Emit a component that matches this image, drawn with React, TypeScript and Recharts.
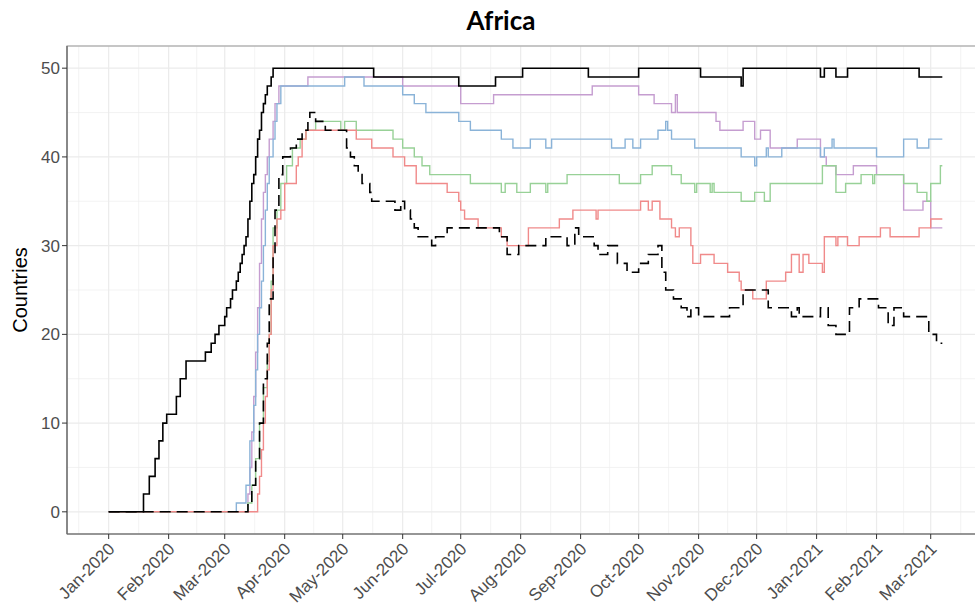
import { LineChart, Line, XAxis, YAxis, CartesianGrid, ReferenceArea } from 'recharts';

// days since 1 Jan 2020 -> number of countries (value holds until next entry)
const allMeasures: [number, number][] = [
  [0, 0], [18, 2], [21, 4], [24, 6], [26, 8], [28, 10], [30, 11], [35, 13], [37, 15], [40, 17],
  [50, 18], [53, 19], [55, 20], [57, 21], [60, 22], [61, 23], [63, 24], [64, 25], [66, 26], [67, 27],
  [68, 28], [69, 29], [70, 30], [71, 31], [72, 33], [73, 35], [74, 37], [75, 38], [76, 40], [77, 42],
  [78, 43], [79, 45], [80, 46], [81, 47], [82, 48], [84, 49], [85, 50], [137, 49], [181, 48], [200, 49],
  [214, 50], [248, 49], [274, 50], [306, 49], [327, 48], [328, 50], [368, 49], [370, 50], [376, 49], [382, 50],
  [419, 49], [431, 49],
];

const dashedSeries: [number, number][] = [
  [0, 0], [72, 1], [74, 3], [76, 6], [78, 10], [80, 15], [82, 19], [83, 24], [85, 29], [86, 34],
  [88, 38], [90, 40], [94, 41], [97, 42], [100, 43], [103, 44], [104, 45], [107, 44], [112, 43], [123, 41],
  [125, 40], [127, 39], [129, 38], [131, 37], [135, 36], [136, 35], [148, 34], [151, 35], [153, 34], [156, 33],
  [158, 32], [160, 31], [167, 30], [169, 31], [175, 32], [202, 31], [206, 29], [212, 30], [226, 31], [237, 30],
  [241, 32], [243, 31], [251, 30], [253, 29], [258, 30], [263, 28], [268, 27], [274, 28], [279, 29], [284, 30],
  [286, 27], [288, 25], [292, 24], [296, 23], [299, 22], [301, 23], [305, 22], [321, 23], [328, 25], [341, 23],
  [353, 22], [356, 23], [357, 22], [368, 23], [372, 21], [376, 20], [383, 23], [388, 24], [398, 23], [403, 21],
  [406, 23], [411, 22], [424, 20], [428, 19], [431, 19],
];

const purpleSeries: [number, number][] = [
  [0, 0], [72, 2], [73, 5], [74, 9], [75, 13], [76, 18], [77, 23], [78, 28], [79, 33], [80, 36],
  [81, 38], [82, 40], [83, 42], [85, 44], [86, 46], [88, 48], [103, 49], [152, 48], [182, 46], [199, 47],
  [250, 48], [274, 47], [282, 46], [291, 45], [293, 47], [294, 45], [314, 44], [316, 43], [328, 44], [334, 42],
  [337, 43], [342, 41], [356, 42], [368, 40], [371, 39], [376, 38], [385, 39], [397, 38], [411, 34], [421, 35],
  [425, 32], [431, 32],
];

const blueSeries: [number, number][] = [
  [0, 0], [66, 1], [71, 3], [73, 8], [75, 12], [76, 16], [77, 20], [78, 23], [79, 26], [80, 30],
  [81, 34], [82, 37], [83, 40], [85, 42], [86, 44], [87, 46], [89, 48], [122, 49], [132, 48], [152, 47],
  [158, 46], [164, 45], [181, 44], [187, 43], [203, 42], [209, 41], [218, 42], [226, 41], [229, 42], [260, 41],
  [267, 42], [271, 41], [275, 42], [284, 43], [288, 44], [289, 43], [291, 42], [303, 41], [327, 40], [334, 39],
  [335, 40], [340, 41], [341, 40], [348, 41], [368, 40], [370, 41], [374, 42], [375, 41], [397, 40], [411, 42],
  [418, 41], [424, 42], [431, 42],
];

const greenSeries: [number, number][] = [
  [0, 0], [72, 1], [74, 3], [76, 6], [78, 10], [80, 14], [82, 17], [83, 20], [84, 26], [85, 32],
  [87, 34], [89, 37], [92, 39], [95, 41], [99, 42], [102, 43], [107, 44], [120, 43], [122, 44], [128, 43],
  [147, 42], [152, 41], [158, 40], [162, 39], [166, 38], [187, 37], [203, 36], [205, 37], [211, 36], [218, 37],
  [226, 36], [227, 37], [237, 38], [264, 37], [275, 38], [281, 39], [291, 38], [296, 37], [303, 36], [304, 37],
  [311, 36], [312, 37], [313, 36], [327, 35], [334, 36], [339, 35], [342, 37], [369, 39], [376, 36], [381, 37],
  [389, 38], [395, 37], [396, 38], [411, 37], [418, 36], [423, 35], [425, 37], [430, 39], [431, 39],
];

const redSeries: [number, number][] = [
  [0, 0], [77, 2], [78, 4], [79, 7], [80, 10], [81, 13], [82, 16], [83, 20], [84, 25], [85, 30],
  [87, 33], [89, 34], [91, 37], [97, 39], [98, 40], [100, 42], [102, 43], [128, 42], [136, 41], [147, 40],
  [153, 39], [159, 37], [175, 36], [181, 35], [182, 34], [184, 33], [191, 32], [203, 31], [206, 30], [217, 32],
  [233, 33], [240, 34], [252, 33], [253, 34], [275, 35], [279, 34], [281, 35], [285, 33], [291, 32], [293, 31],
  [295, 32], [301, 30], [302, 28], [306, 29], [313, 28], [320, 27], [326, 26], [327, 25], [333, 24], [340, 26],
  [350, 27], [353, 29], [357, 27], [359, 29], [362, 28], [369, 27], [370, 31], [376, 30], [377, 31], [382, 30],
  [388, 31], [399, 32], [404, 31], [419, 32], [425, 33], [431, 33],
];

const monthDays = [0, 31, 60, 91, 121, 152, 182, 213, 244, 274, 305, 335, 366, 397, 425];
const monthLabels = [
  'Jan-2020', 'Feb-2020', 'Mar-2020', 'Apr-2020', 'May-2020', 'Jun-2020', 'Jul-2020', 'Aug-2020',
  'Sep-2020', 'Oct-2020', 'Nov-2020', 'Dec-2020', 'Jan-2021', 'Feb-2021', 'Mar-2021',
];
const yTicks = [0, 10, 20, 30, 40, 50];

// ggplot minor breaks sit half way between the major ones
const minorXTicks = [-31, ...monthDays].map((d, i, arr) => {
  const next = i + 1 < arr.length ? arr[i + 1] : 456;
  return (d + next) / 2;
});
const minorYTicks = [5, 15, 25, 35, 45];

const X_DOMAIN: [number, number] = [-21.55, 452.55];
const Y_DOMAIN: [number, number] = [-2.5, 52.5];

const toPoints = (s: [number, number][]) => s.map(([d, v]) => ({ d, v }));

const FONT = '"Liberation Sans", Arial, sans-serif';

const XTick = (props: any) => {
  const { x, y, payload } = props;
  const i = monthDays.indexOf(payload.value);
  const tx = x + 7;
  const ty = y + 9;
  return (
    <text
      x={tx}
      y={ty}
      transform={`rotate(-45 ${tx} ${ty})`}
      textAnchor="end"
      fill="#4D4D4D"
      fontSize={17}
      fontFamily={FONT}
    >
      {monthLabels[i]}
    </text>
  );
};

const YLabel = (props: any) => {
  const { viewBox } = props;
  const cx = viewBox.x + 13;
  const cy = viewBox.y + viewBox.height / 2;
  return (
    <text
      x={cx}
      y={cy}
      transform={`rotate(-90 ${cx} ${cy})`}
      textAnchor="middle"
      dominantBaseline="central"
      fill="#000"
      fontSize={20}
      fontFamily={FONT}
    >
      Countries
    </text>
  );
};

const lines = [
  { key: 'purple', data: purpleSeries, color: '#C59DD0', width: 1.4, dash: undefined },
  { key: 'blue', data: blueSeries, color: '#8AB3D8', width: 1.4, dash: undefined },
  { key: 'green', data: greenSeries, color: '#98D197', width: 1.4, dash: undefined },
  { key: 'red', data: redSeries, color: '#F08A8A', width: 1.4, dash: undefined },
  { key: 'dashed', data: dashedSeries, color: '#000000', width: 1.6, dash: '11 6' },
  { key: 'all', data: allMeasures, color: '#000000', width: 1.6, dash: undefined },
];

export default function App() {
  return (
    <div style={{ position: 'absolute', left: 0, top: 0, width: 975, height: 608, overflow: 'hidden', background: '#fff' }}>
      <div
        style={{
          position: 'absolute',
          left: 0,
          top: 4,
          width: 1002,
          textAlign: 'center',
          fontFamily: 'Lato, "Open Sans", sans-serif',
          fontWeight: 700,
          fontSize: 26,
          color: '#000',
        }}
      >
        Africa
      </div>
      <LineChart width={1000} height={608} margin={{ top: 46, right: 16, bottom: 4, left: 7 }}>
        <CartesianGrid xAxisId="minor" yAxisId="minor" stroke="#EEEEEE" strokeWidth={0.7} />
        <CartesianGrid stroke="#EBEBEB" strokeWidth={1.2} />
        <XAxis
          xAxisId="minor"
          type="number"
          dataKey="d"
          domain={X_DOMAIN}
          ticks={minorXTicks}
          allowDataOverflow
          hide
        />
        <YAxis yAxisId="minor" type="number" domain={Y_DOMAIN} ticks={minorYTicks} allowDataOverflow hide />
        <XAxis
          type="number"
          dataKey="d"
          domain={X_DOMAIN}
          ticks={monthDays}
          allowDataOverflow
          height={70}
          tick={<XTick />}
          tickSize={5}
          tickLine={{ stroke: '#333', strokeWidth: 1 }}
          axisLine={{ stroke: '#666', strokeWidth: 1.2 }}
          interval={0}
        />
        <YAxis
          type="number"
          domain={Y_DOMAIN}
          ticks={yTicks}
          allowDataOverflow
          width={60}
          tickSize={5}
          tick={{ fill: '#4D4D4D', fontSize: 17, fontFamily: FONT }}
          tickLine={{ stroke: '#333', strokeWidth: 1 }}
          axisLine={{ stroke: '#666', strokeWidth: 1.2 }}
          label={<YLabel />}
        />
        <ReferenceArea
          x1={X_DOMAIN[0]}
          x2={X_DOMAIN[1]}
          y1={Y_DOMAIN[0]}
          y2={Y_DOMAIN[1]}
          fill="none"
          stroke="#999"
          strokeWidth={1.2}
          ifOverflow="visible"
        />
        {lines.map((l) => (
          <Line
            key={l.key}
            data={toPoints(l.data)}
            dataKey="v"
            type="stepAfter"
            stroke={l.color}
            strokeWidth={l.width}
            strokeDasharray={l.dash}
            dot={false}
            activeDot={false}
            isAnimationActive={false}
          />
        ))}
      </LineChart>
    </div>
  );
}
